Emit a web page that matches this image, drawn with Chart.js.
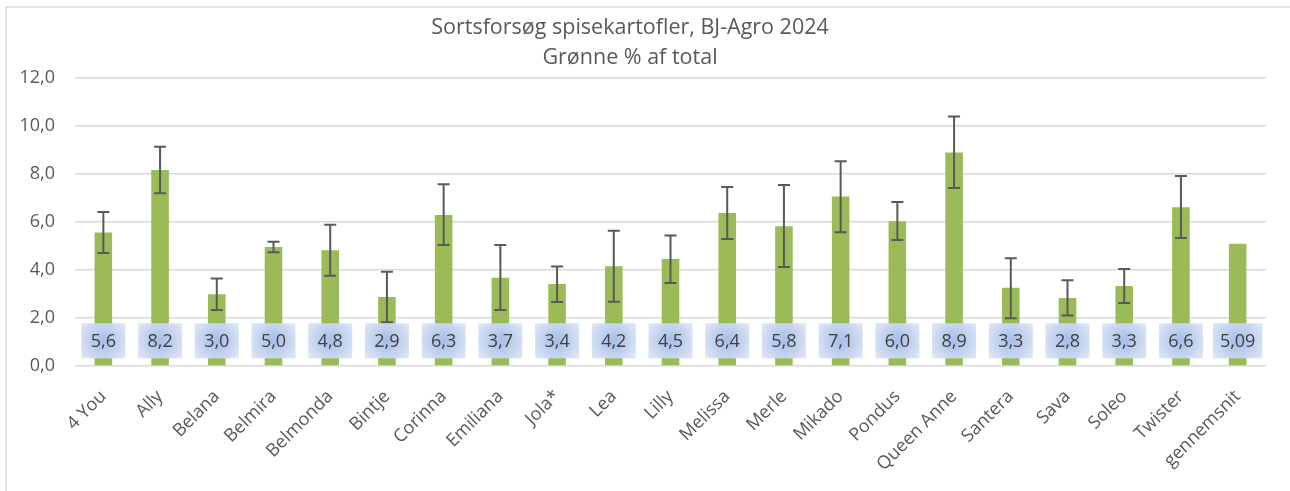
<!DOCTYPE html>
<html>
<head>
<meta charset="utf-8">
<script src="https://cdn.jsdelivr.net/npm/chart.js@4/dist/chart.umd.min.js"></script>
<style>
  body { margin: 0; background: #fff; }
  canvas { display: block; }
</style>
</head>
<body>
<canvas id="chart" width="1290" height="491"></canvas>
<script>
var sorter = ["4 You","Ally","Belana","Belmira","Belmonda","Bintje","Corinna","Emiliana","Jola*","Lea","Lilly",
  "Melissa","Merle","Mikado","Pondus","Queen Anne","Santera","Sava","Soleo","Twister","gennemsnit"];
var groenne = [5.56, 8.17, 2.99, 4.96, 4.82, 2.88, 6.29, 3.68, 3.42, 4.16, 4.46,
  6.37, 5.82, 7.06, 6.03, 8.9, 3.26, 2.83, 3.33, 6.61, 5.09];
// error bar ends (upper / lower), null = no error bar
var errOp = [6.42, 9.14, 3.65, 5.18, 5.89, 3.93, 7.57, 5.04, 4.15, 5.64, 5.44,
  7.46, 7.54, 8.53, 6.83, 10.4, 4.49, 3.57, 4.04, 7.92, null];
var errNed = [4.71, 7.2, 2.33, 4.74, 3.76, 1.82, 5.04, 2.33, 2.67, 2.68, 3.46,
  5.29, 4.13, 5.57, 5.25, 7.42, 1.99, 2.1, 2.63, 5.33, null];
var titel = ["Sortsforsøg spisekartofler, BJ-Agro 2024", "Grønne % af total"];

var FONT = "'Open Sans', sans-serif";
var GREY = "#595959";

function komma(v, d) {
  return v.toFixed(d).replace(".", ",");
}

var rammePlugin = {
  id: "ramme",
  beforeDraw: function(chart) {
    var ctx = chart.ctx;
    ctx.save();
    ctx.fillStyle = "#fff";
    ctx.fillRect(0, 0, chart.width, chart.height);
    ctx.strokeStyle = "#d9d9d9";
    ctx.lineWidth = 1.5;
    ctx.strokeRect(6, 7, chart.width + 20, chart.height + 20);
    ctx.fillStyle = GREY;
    ctx.font = "21.5px " + FONT;
    ctx.textAlign = "center";
    ctx.textBaseline = "middle";
    ctx.fillText(titel[0], 630, 28);
    ctx.fillText(titel[1], 630, 58);
    ctx.restore();
  }
};

var fejlPlugin = {
  id: "fejl",
  afterDatasetsDraw: function(chart) {
    var ctx = chart.ctx;
    var x = chart.scales.x, y = chart.scales.y;
    ctx.save();
    ctx.strokeStyle = GREY;
    ctx.lineWidth = 2;
    errOp.forEach(function(op, i) {
      if (op === null) return;
      var px = x.getPixelForValue(i);
      var y1 = y.getPixelForValue(op), y2 = y.getPixelForValue(errNed[i]);
      ctx.beginPath();
      ctx.moveTo(px, y1); ctx.lineTo(px, y2);
      ctx.moveTo(px - 6, y1); ctx.lineTo(px + 6, y1);
      ctx.moveTo(px - 6, y2); ctx.lineTo(px + 6, y2);
      ctx.stroke();
    });
    // value boxes
    ctx.font = "18px " + FONT;
    ctx.textAlign = "center";
    ctx.textBaseline = "middle";
    var cy = y.getPixelForValue(1.05);
    groenne.forEach(function(v, i) {
      var txt = komma(v, i === groenne.length - 1 ? 2 : 1);
      var px = x.getPixelForValue(i);
      var w = Math.max(44, ctx.measureText(txt).width + 14), h = 35;
      var g = ctx.createRadialGradient(px, cy, 2, px, cy, w * 0.6);
      g.addColorStop(0, "#a9c0e8");
      g.addColorStop(1, "#dde6f5");
      ctx.fillStyle = g;
      ctx.fillRect(px - w / 2, cy - h / 2, w, h);
      ctx.fillStyle = "#404040";
      ctx.fillText(txt, px, cy + 1);
    });
    ctx.restore();
  }
};

new Chart(document.getElementById("chart"), {
  type: "bar",
  data: {
    labels: sorter,
    datasets: [{
      data: groenne,
      backgroundColor: "#9bbb59",
      barPercentage: 0.31,
      categoryPercentage: 1
    }]
  },
  options: {
    responsive: false,
    animation: false,
    layout: { padding: { left: 0, right: 24, top: 78, bottom: 0 } },
    plugins: { legend: { display: false }, tooltip: { enabled: false }, title: { display: false } },
    scales: {
      y: {
        min: 0, max: 12,
        afterFit: function(s) { s.width = 75; },
        border: { display: false },
        grid: { color: "#d9d9d9", lineWidth: 1.5, drawTicks: false },
        ticks: {
          stepSize: 2, padding: 20, color: GREY,
          font: { family: FONT, size: 18 },
          callback: function(v) { return komma(v, 1); }
        }
      },
      x: {
        afterFit: function(s) { s.height = 125; },
        border: { display: false },
        grid: { display: false },
        ticks: {
          minRotation: 45, maxRotation: 45, padding: 12, color: GREY,
          font: { family: FONT, size: 18 }
        }
      }
    }
  },
  plugins: [rammePlugin, fejlPlugin]
});
</script>
</body>
</html>
